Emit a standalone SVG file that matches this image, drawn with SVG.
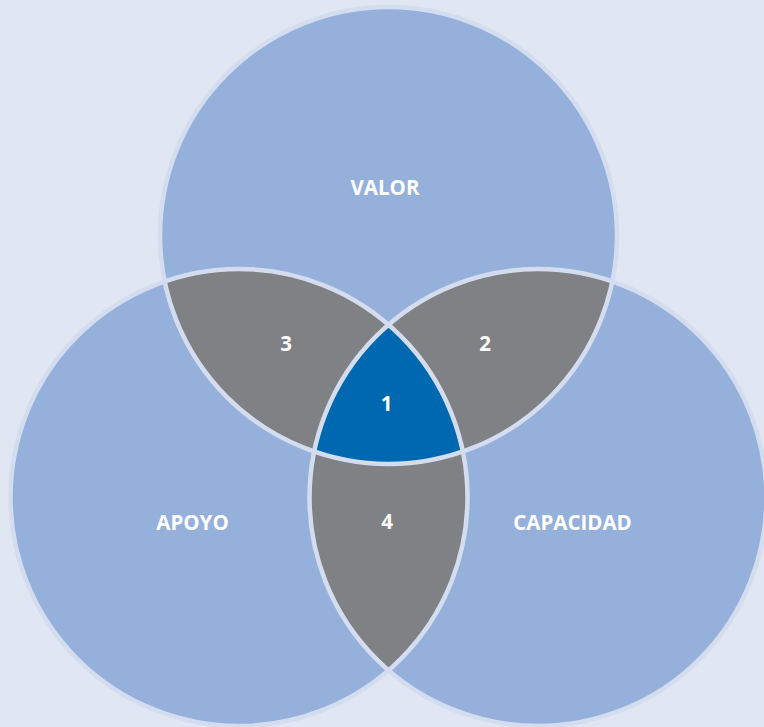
<svg xmlns="http://www.w3.org/2000/svg" xmlns:xlink="http://www.w3.org/1999/xlink" width="764" height="727" viewBox="0 0 764 727">
  <style>
    .set { fill: #95b0da; }
    .pair { fill: #808185; }
    .core { fill: #0067b1; }
    .ring { fill: none; stroke: #d4ddef; stroke-width: 4.5; }
    .lbl { font-family: "Open Sans", "Liberation Sans", sans-serif; font-weight: 700; fill: #ffffff; text-anchor: middle; }
    .big { font-size: 20.5px; }
    .num { font-size: 20.5px; }
  </style>
  <defs>
    <circle id="cT" cx="388.5" cy="235.5" r="228.5"/>
    <circle id="cL" cx="239" cy="497.5" r="228.5"/>
    <circle id="cR" cx="538" cy="497.5" r="228.5"/>
    <clipPath id="clipT"><use xlink:href="#cT"/></clipPath>
    <clipPath id="clipL"><use xlink:href="#cL"/></clipPath>
    <clipPath id="clipR"><use xlink:href="#cR"/></clipPath>
  </defs>
  <rect x="0" y="0" width="764" height="727" fill="#e0e6f2"/>

  <g id="valor">
    <use xlink:href="#cT" class="set"/>
    <text class="lbl big" x="385" y="195">VALOR</text>
  </g>
  <g id="apoyo">
    <use xlink:href="#cL" class="set"/>
    <text class="lbl big" x="192.5" y="530">APOYO</text>
  </g>
  <g id="capacidad">
    <use xlink:href="#cR" class="set"/>
    <text class="lbl big" x="572.5" y="530">CAPACIDAD</text>
  </g>

  <g id="region-3">
    <use xlink:href="#cT" class="pair" clip-path="url(#clipL)"/>
  </g>
  <g id="region-2">
    <use xlink:href="#cT" class="pair" clip-path="url(#clipR)"/>
  </g>
  <g id="region-4">
    <use xlink:href="#cL" class="pair" clip-path="url(#clipR)"/>
  </g>
  <g id="region-1">
    <g clip-path="url(#clipR)">
      <use xlink:href="#cT" class="core" clip-path="url(#clipL)"/>
    </g>
  </g>

  <g id="outlines">
    <use xlink:href="#cT" class="ring"/>
    <use xlink:href="#cL" class="ring"/>
    <use xlink:href="#cR" class="ring"/>
  </g>

  <g id="labels">
    <text class="lbl num" x="286" y="351">3</text>
    <text class="lbl num" x="485" y="351">2</text>
    <text class="lbl num" x="386.5" y="411">1</text>
    <text class="lbl num" x="387" y="528.5">4</text>
  </g>
</svg>
